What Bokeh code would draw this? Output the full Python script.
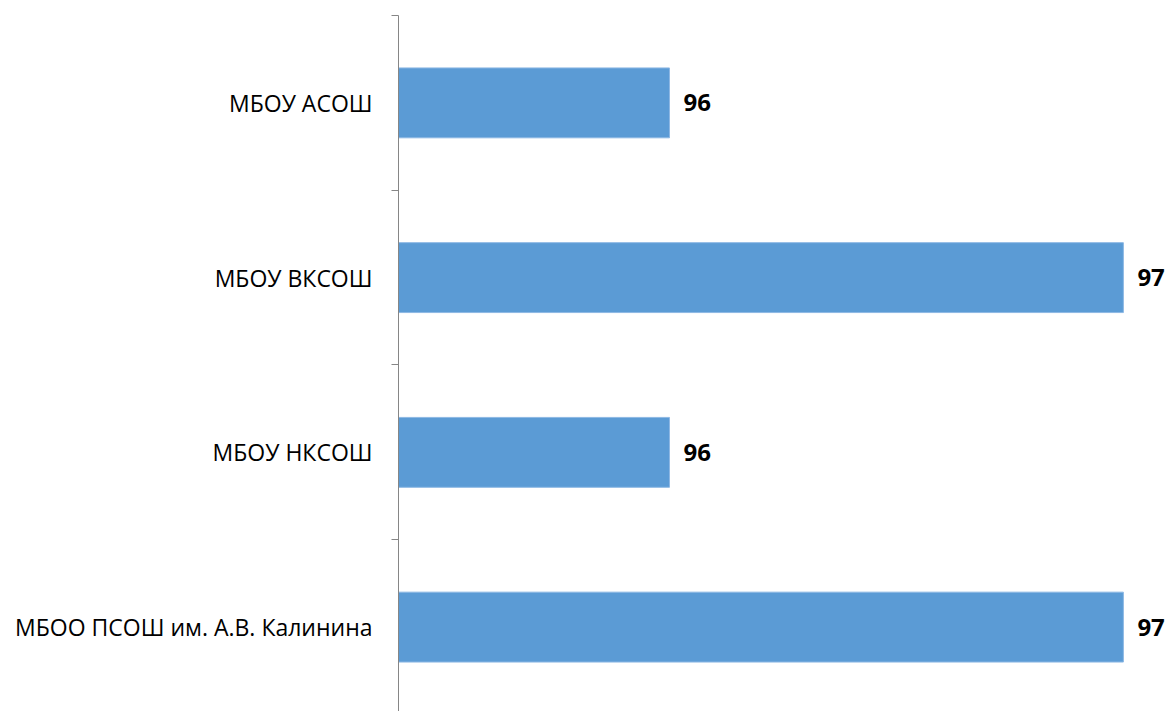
from bokeh.plotting import figure
from bokeh.models import FixedTicker, ColumnDataSource
from bokeh.core.properties import value
from bokeh.embed import file_html
from bokeh.resources import INLINE

categories = ["МБОУ АСОШ", "МБОУ ВКСОШ", "МБОУ НКСОШ", "МБОО ПСОШ им. А.В. Калинина"]
values = [96, 97, 96, 97]
value_labels = ["96", "97", "96", "97"]

x_min = 95.403
x_max = 97.106

n = len(categories)
ypos = [n - 1 - i for i in range(n)]
src = ColumnDataSource(dict(y=ypos, v=values, lab=value_labels, left=[x_min] * n))

p = figure(width=1171, height=711, output_backend="svg", toolbar_location=None,
           x_range=(x_min, x_max), y_range=(-0.483, n - 0.5),
           min_border_left=398, min_border_top=15, min_border_bottom=0, min_border_right=0)
p.outline_line_color = None
p.xaxis.visible = False
p.grid.visible = False

p.hbar(y="y", left="left", right="v", height=0.4, source=src,
       fill_color="#5B9BD5", line_color="#8DB8E4", line_width=1)

p.text(x="v", y="y", text="lab", source=src, x_offset=14,
       text_align="left", text_baseline="middle",
       text_font=value("Open Sans"), text_font_style="bold",
       text_font_size="24px", text_color="#000000")

ax = p.yaxis[0]
ax.ticker = FixedTicker(ticks=ypos, minor_ticks=[k - 0.5 for k in range(n + 1)])
ax.major_label_overrides = {yy: c for yy, c in zip(ypos, categories)}
ax.major_tick_out = 0
ax.major_tick_in = 0
ax.minor_tick_out = 7
ax.minor_tick_in = 0
ax.minor_tick_line_color = "#868686"
ax.axis_line_color = "#868686"
ax.axis_line_width = 1
ax.major_label_standoff = 19
ax.major_label_text_font = "Open Sans"
ax.major_label_text_font_size = "23px"
ax.major_label_text_color = "#000000"

open("out.html", "w").write(file_html(p, INLINE))
